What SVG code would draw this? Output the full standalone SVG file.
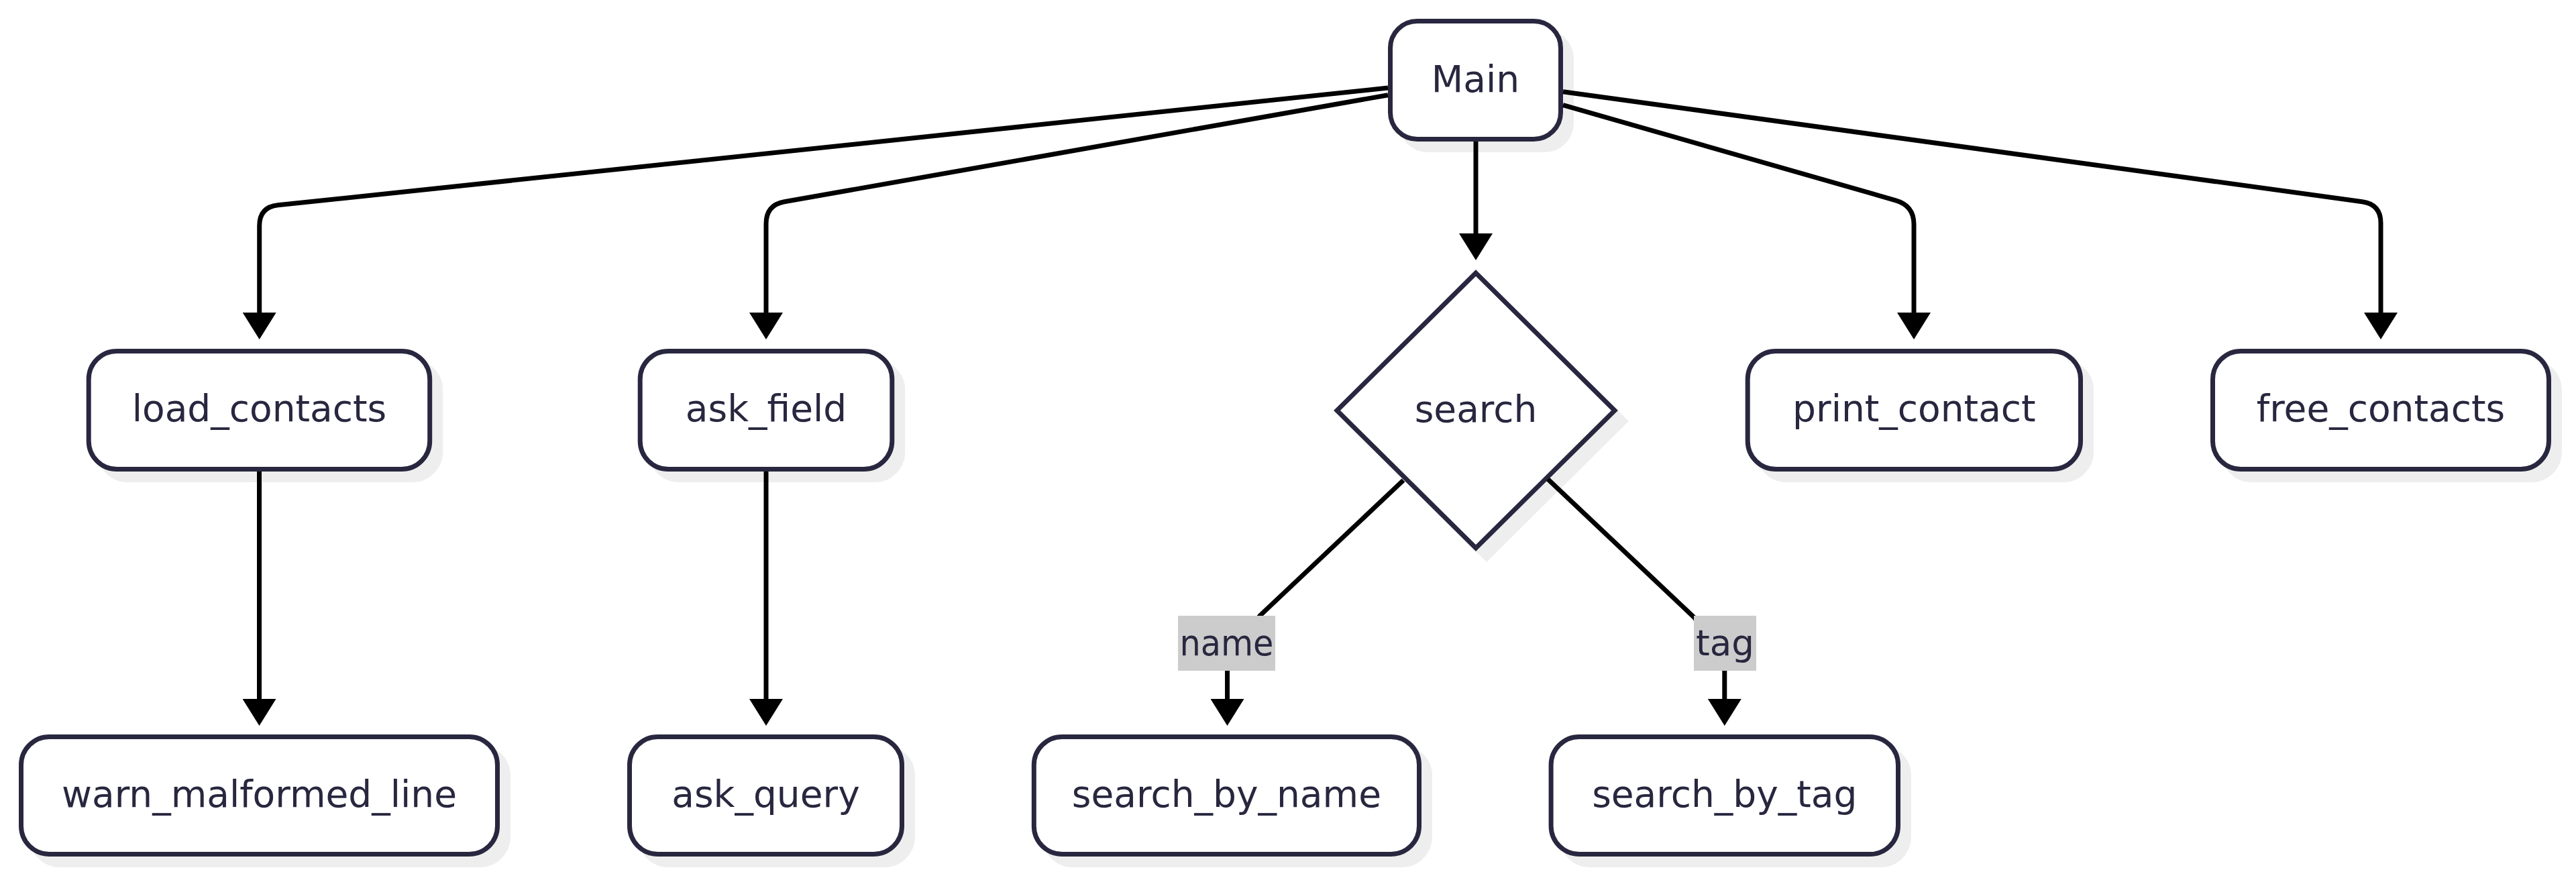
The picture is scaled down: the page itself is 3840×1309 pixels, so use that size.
<svg xmlns="http://www.w3.org/2000/svg" width="3840" height="1309" viewBox="0 0 3840 1309">
<style>
.bg{fill:#ffffff}
.shape{fill:#ffffff;stroke:#28273f;stroke-width:7}
.shadow{fill:#eeeeee;stroke:#eeeeee;stroke-width:7}
.txt{font-family:"DejaVu Sans","Liberation Sans",sans-serif;font-size:55px;fill:#28273f;text-anchor:middle}
.lbl{font-size:53px}
.edge{fill:none;stroke:#000000;stroke-width:7;marker-end:url(#arrow)}
.lblbg{fill:#cccccc}
</style>
<defs>
<marker id="arrow" markerUnits="userSpaceOnUse" markerWidth="40" markerHeight="50" viewBox="0 0 40 50" refX="10" refY="25" orient="auto">
<path d="M0,0 L40,25 L0,50 z" fill="#000000"/>
</marker>
</defs>
<rect class="bg" x="0" y="0" width="3840" height="1309"/>

<g id="node-main">
<rect class="shadow" x="2088.5" y="47.5" width="254" height="176" rx="40"/>
<rect class="shape" x="2072.5" y="31.5" width="254" height="176" rx="40"/>
<text class="txt" x="2199.5" y="137">Main</text>
</g>

<g id="node-load_contacts">
<rect class="shadow" x="148.2" y="539.5" width="508.5" height="176" rx="42"/>
<rect class="shape" x="132.2" y="523.5" width="508.5" height="176" rx="42"/>
<text class="txt" x="386.5" y="628">load_contacts</text>
</g>

<g id="node-ask_field">
<rect class="shadow" x="970.2" y="539.5" width="375.6" height="176" rx="42"/>
<rect class="shape" x="954.2" y="523.5" width="375.6" height="176" rx="42"/>
<text class="txt" x="1142" y="628">ask_field</text>
</g>

<g id="node-search">
<polygon class="shadow" points="2216,423 2423,628 2216,833 2009,628"/>
<polygon class="shape" points="2200,407 2407,612 2200,817 1993,612"/>
<text class="txt" x="2200" y="629">search</text>
</g>

<g id="node-print_contact">
<rect class="shadow" x="2621.2" y="539.5" width="496.3" height="176" rx="42"/>
<rect class="shape" x="2605.2" y="523.5" width="496.3" height="176" rx="42"/>
<text class="txt" x="2853.4" y="628">print_contact</text>
</g>

<g id="node-free_contacts">
<rect class="shadow" x="3314.5" y="539.5" width="501" height="176" rx="42"/>
<rect class="shape" x="3298.5" y="523.5" width="501" height="176" rx="42"/>
<text class="txt" x="3549" y="628">free_contacts</text>
</g>

<g id="node-warn_malformed_line">
<rect class="shadow" x="47.5" y="1114.5" width="710" height="175" rx="42"/>
<rect class="shape" x="31.5" y="1098.5" width="710" height="175" rx="42"/>
<text class="txt" x="386.5" y="1203">warn_malformed_line</text>
</g>

<g id="node-ask_query">
<rect class="shadow" x="954.5" y="1114.5" width="406" height="175" rx="42"/>
<rect class="shape" x="938.5" y="1098.5" width="406" height="175" rx="42"/>
<text class="txt" x="1141.5" y="1203">ask_query</text>
</g>

<g id="node-search_by_name">
<rect class="shadow" x="1557.3" y="1114.5" width="574.2" height="175" rx="42"/>
<rect class="shape" x="1541.3" y="1098.5" width="574.2" height="175" rx="42"/>
<text class="txt" x="1828.4" y="1203">search_by_name</text>
</g>

<g id="node-search_by_tag">
<rect class="shadow" x="2328.1" y="1114.5" width="517.4" height="175" rx="42"/>
<rect class="shape" x="2312.1" y="1098.5" width="517.4" height="175" rx="42"/>
<text class="txt" x="2570.8" y="1203">search_by_tag</text>
</g>

<g id="connectors">
<path class="edge" d="M2069,131 L414.5,305.8 Q386.7,308.7 386.7,336.7 L386.7,476"/>
<path class="edge" d="M2069,141.7 L1169.3,300.8 Q1142,305.7 1142,333.7 L1142,476"/>
<path class="edge" d="M2200,211 L2200,358"/>
<path class="edge" d="M2330,156.7 L2826,298.8 Q2853,306.5 2853,334.5 L2853,476"/>
<path class="edge" d="M2330,136.7 L3521.3,300.8 Q3549,304.6 3549,332.6 L3549,476"/>
<path class="edge" d="M386.5,703 L386.5,1052"/>
<path class="edge" d="M1142,703 L1142,1052"/>
<path class="edge" d="M2092,716 L1878,918 L1829.5,985 L1829.5,1052"/>
<path class="edge" d="M2307.5,714.5 L2526,921 L2570.8,985 L2570.8,1052"/>
</g>

<g id="edge-labels">
<g id="label-name">
<rect class="lblbg" x="1756" y="918" width="145" height="82"/>
<text class="txt lbl" x="1828.5" y="977" textLength="140" lengthAdjust="spacingAndGlyphs">name</text>
</g>
<g id="label-tag">
<rect class="lblbg" x="2525" y="918" width="93" height="82"/>
<text class="txt lbl" x="2571.5" y="977">tag</text>
</g>
</g>
</svg>
